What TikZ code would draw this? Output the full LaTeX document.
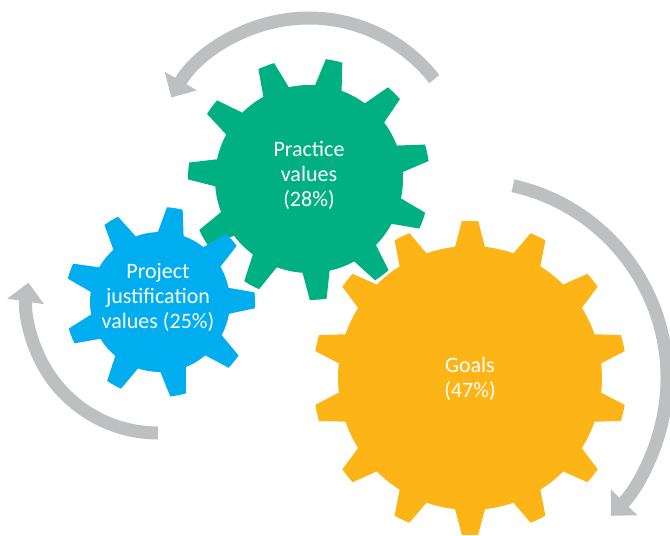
\documentclass[tikz,border=0pt]{standalone}
\usepackage{fontspec}
\setmainfont{Carlito}
\usepackage{tikz}
\usetikzlibrary{arrows.meta}

\definecolor{gearGreen}{RGB}{0,176,131}
\definecolor{gearBlue}{RGB}{0,174,239}
\definecolor{gearYellow}{RGB}{252,180,22}
\definecolor{turnGrey}{RGB}{190,191,193}

% centre, teeth, first tooth angle, root radius, tip radius, base half angle, tip half angle, colour
\newcommand{\drawgear}[8]{%
  \fill[#8, shift={(#1)}] ({#3-#6}:#4)
    \foreach \i [evaluate=\i as \t using #3+(\i-1)*360/#2] in {1,...,#2} {
      -- ({\t-#6}:#4) -- ({\t-#7}:#5)
      arc[start angle={\t-#7}, end angle={\t+#7}, radius=#5]
      -- ({\t+#6}:#4)
      arc[start angle={\t+#6}, end angle={\t+360/#2-#6}, radius=#4]
    } -- cycle;
}

\begin{document}
\begin{tikzpicture}[x=1pt, y=1pt,
      turnarrow/.style={draw=turnGrey, line width=13pt,
        -{Triangle[width=36pt,length=19pt]}},
      gearlabel/.style={text=white, align=center,
        font=\fontsize{22}{25}\selectfont}]

  \useasboundingbox (0,0) rectangle (670,536);

  \coordinate (practiceC) at (309,357);
  \coordinate (projectC) at (160,234);
  \coordinate (goalsC) at (470,158);

  % turning arrows
  \draw[turnarrow] (309,359) ++(38:159)
    arc[start angle=38, end angle=150, radius=159];
  \draw[turnarrow] (goalsC) ++(77.4:197)
    arc[start angle=77.4, end angle=-44.4, radius=197];
  \draw[turnarrow] (158,234) ++(-90:131)
    arc[start angle=-90, end angle=-188.5, radius=131];

  % gears
  \drawgear{practiceC}{11}{78}{94}{121}{8.3}{4}{gearGreen}
  \drawgear{projectC}{9}{81}{70}{95}{10.7}{4.8}{gearBlue}
  \drawgear{goalsC}{14}{90}{132}{157}{6.5}{3}{gearYellow}

  \node[gearlabel] (practice) at (309,361) {Practice\\values\\(28\%)};
  \node[gearlabel] (project) at (158,239) {Project\\justification\\values (25\%)};
  \node[gearlabel] (goals) at (470,157) {Goals\\(47\%)};
\end{tikzpicture}
\end{document}
